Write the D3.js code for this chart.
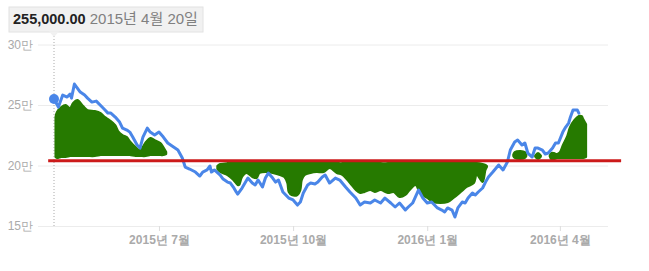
<!DOCTYPE html>
<html>
<head>
<meta charset="utf-8">
<script src="https://cdn.jsdelivr.net/npm/d3@7"></script>
<style>
    body { margin: 0; background: #fff; }
    svg { display: block; font-family: Arial, "Liberation Sans", "Noto Sans CJK KR", sans-serif; }
    .y-axis text { fill: #aaa; font-size: 12px; }
    .x-axis text { fill: #aaa; font-size: 12px; font-weight: bold; }
    .y-axis line { stroke: #ececec; }
    .x-axis line { stroke: #ddd; }
</style>
</head>
<body>
<div id="chart"></div>
<script>
// closing price
const priceDates = ['2015-04-20','2015-04-23','2015-04-26','2015-04-29','2015-05-01','2015-05-02','2015-05-04','2015-05-08','2015-05-11','2015-05-13',
    '2015-05-16','2015-05-19','2015-05-23','2015-05-25','2015-05-27','2015-05-29','2015-06-01','2015-06-04','2015-06-06','2015-06-09',
    '2015-06-11','2015-06-13','2015-06-16','2015-06-18','2015-06-20','2015-06-23','2015-06-25','2015-06-28','2015-07-01','2015-07-04',
    '2015-07-07','2015-07-10','2015-07-14','2015-07-17','2015-07-19','2015-07-22','2015-07-26','2015-07-29','2015-07-31','2015-08-03',
    '2015-08-05','2015-08-06','2015-08-08','2015-08-12','2015-08-14','2015-08-17','2015-08-19','2015-08-21','2015-08-23','2015-08-24',
    '2015-08-27','2015-08-29','2015-08-31','2015-09-03','2015-09-05','2015-09-07','2015-09-10','2015-09-12','2015-09-14','2015-09-17',
    '2015-09-19','2015-09-21','2015-09-24','2015-09-28','2015-10-01','2015-10-04','2015-10-06','2015-10-08','2015-10-11','2015-10-13',
    '2015-10-16','2015-10-18','2015-10-21','2015-10-23','2015-10-26','2015-10-30','2015-11-02','2015-11-06','2015-11-09','2015-11-13',
    '2015-11-16','2015-11-19','2015-11-23','2015-11-26','2015-11-30','2015-12-03','2015-12-07','2015-12-10','2015-12-13','2015-12-17',
    '2015-12-19','2015-12-22','2015-12-26','2015-12-29','2016-01-01','2016-01-04','2016-01-08','2016-01-11','2016-01-13','2016-01-15',
    '2016-01-18','2016-01-20','2016-01-22','2016-01-25','2016-01-27','2016-01-29','2016-02-01','2016-02-03','2016-02-05','2016-02-08',
    '2016-02-10','2016-02-12','2016-02-15','2016-02-19','2016-02-22','2016-02-25','2016-02-27','2016-03-01','2016-03-03','2016-03-06',
    '2016-03-08','2016-03-10','2016-03-13','2016-03-15','2016-03-17','2016-03-20','2016-03-22','2016-03-24','2016-03-27','2016-03-29',
    '2016-03-31','2016-04-03','2016-04-05','2016-04-07','2016-04-08','2016-04-10','2016-04-13','2016-04-14'];

const priceValues = [255000,248300,258200,256600,259000,255700,267300,260700,258200,255700,
    252400,253200,248300,245800,243300,243300,240000,235900,230900,229300,
    227600,223500,216900,214400,223500,230900,227600,225200,227600,223500,
    218600,216100,212800,206200,198700,197100,194600,191300,194600,196300,
    199600,194600,196300,192100,188800,186300,185500,182200,178100,176400,
    181400,185500,189600,185500,183900,188000,182200,189600,193800,189600,
    186300,188000,178100,173100,171500,167300,169800,177300,183900,185500,
    184700,186300,190500,192100,185500,189600,188000,182200,178100,173100,
    167300,169800,169000,171500,169000,173100,169000,165700,169000,163200,
    165700,169000,179700,173100,169000,169800,164900,163200,161600,164900,
    163200,157400,164900,169800,169000,173100,177300,175600,178100,181400,
    186300,190500,194600,200400,196300,202900,212800,219400,221000,216900,
    218600,210300,207000,214400,214400,212800,209500,210300,214400,218600,
    218600,227600,231800,235100,239200,245800,245800,243300];

// hand drawn green marker strokes: [date, top, bottom]
const strokeSpring = [
    ['2015-04-21',240000,207000], ['2015-04-22',244200,206200], ['2015-04-25',248300,207000],
    ['2015-04-28',249900,207000], ['2015-05-01',247500,207800], ['2015-05-03',251600,207800],
    ['2015-05-06',254100,207800], ['2015-05-10',249100,207800], ['2015-05-13',245800,207800],
    ['2015-05-18',245000,207800], ['2015-05-22',243300,208600], ['2015-05-25',240000,208600],
    ['2015-05-28',237600,208600], ['2015-06-01',233400,208600], ['2015-06-03',228500,208600],
    ['2015-06-06',225200,208600], ['2015-06-09',223500,208600], ['2015-06-11',220200,208600],
    ['2015-06-15',215300,207800], ['2015-06-18',212800,207800], ['2015-06-22',219400,207800],
    ['2015-06-25',222700,208600], ['2015-06-28',221000,208600], ['2015-07-02',218600,208600],
    ['2015-07-04',215300,208600], ['2015-07-06',211100,209500]
];

const strokeAutumn = [
    ['2015-08-10',199600,197100], ['2015-08-12',201200,194600], ['2015-08-17',202000,192100],
    ['2015-08-21',202000,188000], ['2015-08-24',202000,183900], ['2015-08-25',202000,183900],
    ['2015-08-27',202000,190500], ['2015-08-30',202000,193800], ['2015-09-03',202000,190500],
    ['2015-09-06',202000,189600], ['2015-09-08',202000,193800], ['2015-09-13',202000,194600],
    ['2015-09-17',202000,193800], ['2015-09-22',202000,192100], ['2015-09-25',202000,190500],
    ['2015-09-27',202000,185500], ['2015-09-28',202000,178100], ['2015-09-30',202000,175600],
    ['2015-10-04',202000,175600], ['2015-10-06',202000,179700], ['2015-10-07',202000,188000],
    ['2015-10-09',202000,192100], ['2015-10-13',202000,193800], ['2015-10-17',202000,194600],
    ['2015-10-22',202000,194600], ['2015-10-26',202000,197900], ['2015-10-31',202000,193800],
    ['2015-11-04',202000,192100], ['2015-11-09',202900,185500], ['2015-11-13',202900,179700],
    ['2015-11-16',202900,177300], ['2015-11-19',202900,178100], ['2015-11-23',202900,179700],
    ['2015-11-26',202900,178100], ['2015-11-30',202000,179700], ['2015-12-05',202000,177300],
    ['2015-12-09',202000,178100], ['2015-12-13',202000,174000], ['2015-12-17',202000,175600],
    ['2015-12-20',202000,179700], ['2015-12-24',202000,183900], ['2015-12-27',202000,177300],
    ['2016-01-01',202000,173100], ['2016-01-05',202000,169800], ['2016-01-10',202000,169000],
    ['2016-01-15',202000,169800], ['2016-01-19',202000,173100], ['2016-01-24',202000,178100],
    ['2016-01-28',202000,182200], ['2016-02-02',202000,185500], ['2016-02-04',202000,192100],
    ['2016-02-08',201200,186300], ['2016-02-10',200400,196300], ['2016-02-11',199600,198700]
];

const strokeMarchA = [
    ['2016-02-29',209000,207800], ['2016-03-01',211100,206200], ['2016-03-05',212000,205300],
    ['2016-03-08',211100,206200], ['2016-03-09',208600,207800]
];

const strokeMarchB = [
    ['2016-03-15',208200,207400], ['2016-03-17',210300,205300], ['2016-03-19',208200,207400]
];

const strokeApril = [
    ['2016-03-25',208200,207400], ['2016-03-26',210300,205300], ['2016-03-28',210300,205300],
    ['2016-03-30',209500,206200], ['2016-04-01',211100,206200], ['2016-04-03',216900,206200],
    ['2016-04-06',224300,206200], ['2016-04-08',231800,206200], ['2016-04-11',237600,206200],
    ['2016-04-14',240900,206200], ['2016-04-16',240900,206200], ['2016-04-17',238400,206200],
    ['2016-04-19',234000,207000]
];

// red reference line
const refValue = 204000;
const refStart = '2015-04-16';
const refEnd = '2016-05-13';

// axes
const yTicks = [150000, 200000, 250000, 300000];
const xTicks = ['2015-07-01', '2015-10-01', '2016-01-01', '2016-04-01'];
const domainStart = '2015-04-20';
const domainEnd = '2016-05-04';

// tooltip
const tipValue = 255000;
const tipDate = '2015-04-20';


const parse = d3.timeParse('%Y-%m-%d');

const width = 649, height = 271;
const margin = {top: 44.5, right: 41, bottom: 45, left: 38};

const svg = d3.select('#chart').append('svg')
    .attr('width', width)
    .attr('height', height);

// scales
const x = d3.scaleTime()
    .domain([parse(domainStart), parse(domainEnd)])
    .range([margin.left + 16, width - margin.right]);

const y = d3.scaleLinear()
    .domain([150000, 300000])
    .range([height - margin.bottom, margin.top]);

// grid + y labels
svg.append('g')
    .attr('class', 'y-axis')
    .attr('transform', `translate(${margin.left}, 0)`)
    .call(d3.axisLeft(y)
        .tickValues(yTicks)
        .tickSize(-(width - margin.right - margin.left))
        .tickPadding(5)
        .tickFormat(d => (d / 10000) + '만'))
    .call(g => g.select('.domain').remove());

// x labels
svg.append('g')
    .attr('class', 'x-axis')
    .attr('transform', `translate(0, ${height - margin.bottom})`)
    .call(d3.axisBottom(x)
        .tickValues(xTicks.map(parse))
        .tickSize(5)
        .tickPadding(4)
        .tickFormat(d3.timeFormat('%Y년 %-m월')))
    .call(g => g.select('.domain').remove());

// dotted hover line
svg.append('line')
    .attr('x1', x(parse(tipDate)))
    .attr('x2', x(parse(tipDate)))
    .attr('y1', 36)
    .attr('y2', y(150000))
    .attr('stroke', '#aaa')
    .attr('stroke-dasharray', '1,2');

// green marker strokes
const area = d3.area()
    .x(d => x(parse(d[0])))
    .y0(d => y(d[2]))
    .y1(d => y(d[1]))
    .curve(d3.curveCatmullRom.alpha(0.5));

svg.append('g')
    .selectAll('path')
    .data([strokeSpring, strokeAutumn, strokeMarchA, strokeMarchB, strokeApril])
    .enter()
    .append('path')
    .attr('d', area)
    .attr('fill', '#267a00')
    .attr('stroke', '#267a00')
    .attr('stroke-width', 2)
    .attr('stroke-linejoin', 'round');

// price line
const priceData = priceDates.map((d, i) => ({date: parse(d), value: priceValues[i]}));

svg.append('path')
    .datum(priceData)
    .attr('fill', 'none')
    .attr('stroke', '#4a86e8')
    .attr('stroke-width', 3)
    .attr('stroke-linejoin', 'round')
    .attr('stroke-linecap', 'round')
    .attr('d', d3.line()
        .x(d => x(d.date))
        .y(d => y(d.value)));

svg.append('circle')
    .attr('cx', x(parse(tipDate)))
    .attr('cy', y(tipValue))
    .attr('r', 5)
    .attr('fill', '#4a86e8');

// red line
svg.append('line')
    .attr('x1', x(parse(refStart)))
    .attr('x2', x(parse(refEnd)))
    .attr('y1', y(refValue))
    .attr('y2', y(refValue))
    .attr('stroke', '#cc1a1a')
    .attr('stroke-width', 3);

// tooltip box
const tipX = x(parse(tipDate));
const tip = svg.append('g');

tip.append('rect')
    .attr('x', 9)
    .attr('y', 7)
    .attr('width', 194)
    .attr('height', 25)
    .attr('fill', '#f1f1f1')
    .attr('stroke', '#e2e2e2');

tip.append('path')
    .attr('d', `M${tipX - 5},31.5L${tipX},37L${tipX + 5},31.5Z`)
    .attr('fill', '#f1f1f1');

const tipText = tip.append('text')
    .attr('x', 13)
    .attr('y', 24);

tipText.append('tspan')
    .text(d3.format(',.2f')(tipValue))
    .style('font-size', '14.5px')
    .style('font-weight', 'bold')
    .attr('fill', '#222');

tipText.append('tspan')
    .text(' ' + d3.timeFormat('%Y년 %-m월 %-d일')(parse(tipDate)))
    .style('font-size', '15px')
    .attr('fill', '#808080');
</script>
</body>
</html>
